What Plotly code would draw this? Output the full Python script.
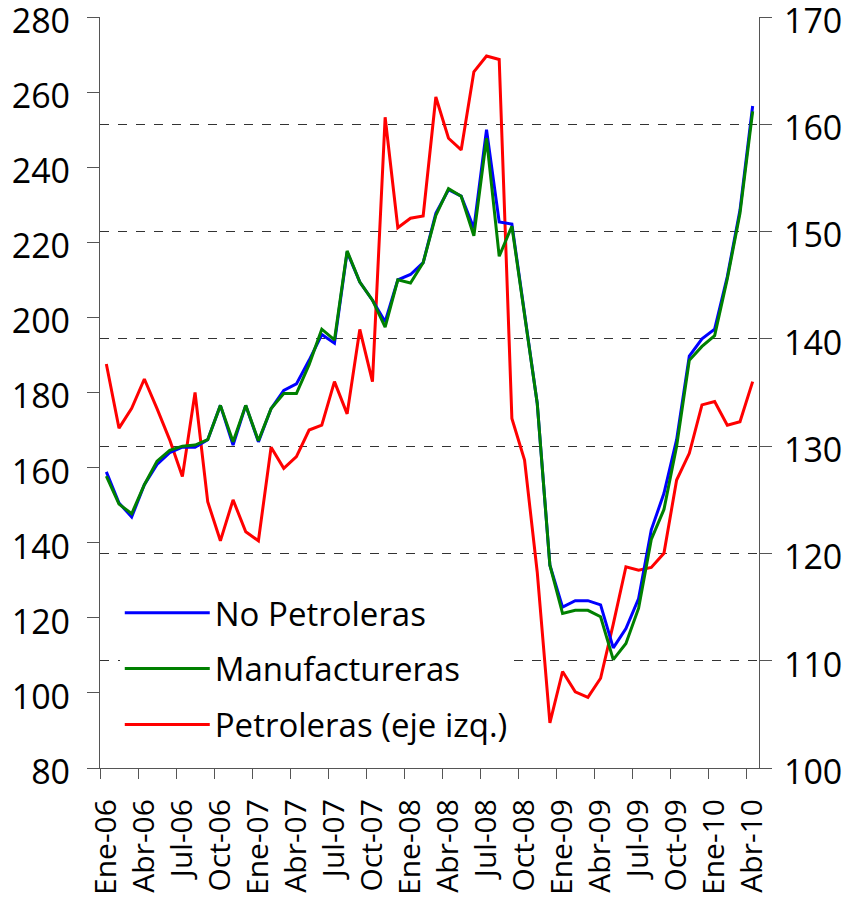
import plotly.graph_objects as go

meses = ["Ene", "Feb", "Mar", "Abr", "May", "Jun", "Jul", "Ago", "Sep", "Oct", "Nov", "Dic"]
years = ["06", "07", "08", "09", "10"]
categories = [f"{m}-{y}" for y in years for m in meses][:52]

no_petroleras = [127.6, 124.7, 123.4, 126.4, 128.3, 129.4, 129.9, 129.9, 130.6, 133.8,
                 130.1, 133.8, 130.4, 133.5, 135.2, 135.8, 138.0, 140.4, 139.6, 148.1,
                 145.3, 143.6, 141.6, 145.5, 146.0, 147.1, 151.7, 153.9, 153.3, 150.3,
                 159.5, 150.9, 150.7, 142.4, 134.0, 118.9, 115.0, 115.6, 115.6, 115.2,
                 111.2, 113.0, 115.8, 122.2, 125.6, 130.6, 138.4, 140.0, 140.9, 145.8,
                 152.0, 161.7]

manufactureras = [127.2, 124.6, 123.7, 126.4, 128.6, 129.6, 130.0, 130.1, 130.6, 133.8,
                  130.4, 133.8, 130.5, 133.5, 134.9, 134.9, 137.6, 140.9, 139.9, 148.2,
                  145.3, 143.6, 141.1, 145.5, 145.2, 147.1, 151.5, 154.0, 153.3, 149.6,
                  158.7, 147.7, 150.5, 142.3, 134.0, 118.9, 114.4, 114.7, 114.7, 114.1,
                  110.1, 111.6, 114.9, 121.3, 124.1, 130.0, 138.0, 139.3, 140.3, 145.6,
                  151.7, 161.2]

petroleras = [187.6, 170.5, 175.8, 183.6, 175.7, 167.4, 157.6, 180.0, 150.9, 140.5,
              151.4, 142.9, 140.5, 165.4, 159.8, 162.9, 170.0, 171.3, 182.9, 174.3,
              196.8, 182.9, 253.3, 223.9, 226.4, 227.0, 258.7, 247.7, 244.6, 265.4,
              269.6, 268.7, 173.1, 162.0, 132.2, 92.0, 105.7, 100.3, 98.8, 103.9,
              118.3, 133.6, 132.7, 133.4, 137.2, 156.7, 163.8, 176.7, 177.6, 171.3,
              172.2, 182.9]

left_ticks = list(range(80, 281, 20))
right_ticks = list(range(100, 171, 10))

x = list(range(len(categories)))
label_idx = x[::3]

FONT = "Open Sans, Lato, DejaVu Sans, sans-serif"
AXC = "#555555"

fig = go.Figure()
fig.add_trace(go.Scatter(x=x, y=no_petroleras, name="No Petroleras", mode="lines",
                         line=dict(color="#0000FF", width=3), yaxis="y2",
                         legendgroup="a"))
fig.add_trace(go.Scatter(x=x, y=manufactureras, name="Manufactureras", mode="lines",
                         line=dict(color="#008000", width=3), yaxis="y2",
                         legendgroup="b"))
fig.add_trace(go.Scatter(x=x, y=petroleras, name="Petroleras (eje izq.)", mode="lines",
                         line=dict(color="#FF0000", width=3), yaxis="y",
                         legendgroup="c"))

fig.update_layout(
    width=842, height=895,
    margin=dict(l=92, r=91, t=9, b=135, autoexpand=False),
    paper_bgcolor="white", plot_bgcolor="white",
    font=dict(family=FONT, color="black"),
    showlegend=True,
    legend=dict(x=0.03, y=0.244, xanchor="left", yanchor="top",
                bgcolor="white", borderwidth=0,
                font=dict(size=33, family=FONT),
                itemwidth=85, traceorder="grouped", tracegroupgap=10),
    xaxis=dict(
        range=[-0.5, len(categories) - 0.5],
        tickmode="array", tickvals=label_idx,
        ticktext=[categories[i] for i in label_idx],
        tickangle=-90, ticks="", ticklabelstandoff=18,
        tickfont=dict(size=30, family=FONT), ticklabeloverflow="allow",
        showline=True, linecolor=AXC, linewidth=1.3,
        showgrid=False, zeroline=False, automargin=False,
        minor=dict(tickmode="array", tickvals=[i - 0.5 for i in label_idx],
                   ticks="outside", ticklen=10, tickcolor=AXC, tickwidth=1, showgrid=False),
    ),
    yaxis=dict(
        range=[80, 280], tickmode="array", tickvals=left_ticks,
        ticks="outside", ticklen=12, tickcolor=AXC,
        ticklabelstandoff=10, ticklabelshift=4,
        tickfont=dict(size=34, family=FONT), ticklabeloverflow="allow",
        showline=True, linecolor=AXC, linewidth=1.3,
        showgrid=False, zeroline=False, automargin=False,
    ),
    yaxis2=dict(
        range=[100, 170], tickmode="array", tickvals=right_ticks,
        overlaying="y", side="right",
        ticks="outside", ticklen=12, tickcolor=AXC,
        ticklabelstandoff=5, ticklabelshift=4,
        tickfont=dict(size=34, family=FONT), ticklabeloverflow="allow",
        showline=True, linecolor=AXC, linewidth=1.3,
        showgrid=True, gridcolor="#333333", griddash="dash", gridwidth=1,
        zeroline=False, automargin=False,
    ),
)

fig.write_html("out.html")
